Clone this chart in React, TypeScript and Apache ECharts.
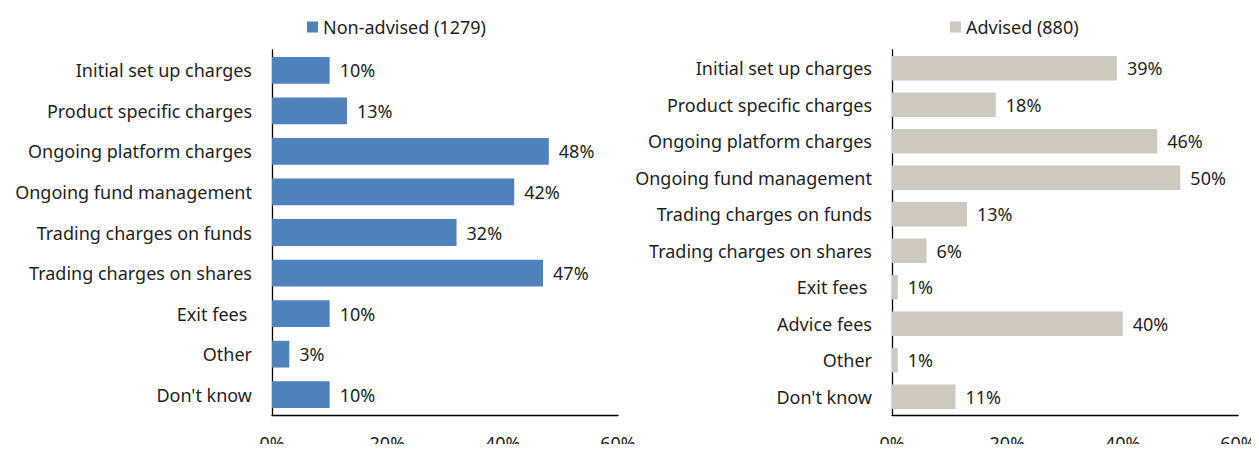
import React, { useEffect, useRef } from "react";
import * as echarts from "echarts";

const leftCategories = [
  "Initial set up charges",
  "Product specific charges",
  "Ongoing platform charges",
  "Ongoing fund management",
  "Trading charges on funds",
  "Trading charges on shares",
  "Exit fees ",
  "Other",
  "Don't know",
];
const leftValues = [10, 13, 48, 42, 32, 47, 10, 3, 10];

const rightCategories = [
  "Initial set up charges",
  "Product specific charges",
  "Ongoing platform charges",
  "Ongoing fund management",
  "Trading charges on funds",
  "Trading charges on shares",
  "Exit fees ",
  "Advice fees",
  "Other",
  "Don't know",
];
const rightValues = [39, 18, 46, 50, 13, 6, 1, 40, 1, 11];

const leftName = "Non-advised (1279)";
const rightName = "Advised (880)";
const xTicks = { min: 0, max: 60, interval: 20 };

const FONT = "Noto Sans";
const FS = 18;
const TEXT = "#1f1f1f";

export default function App() {
  const ref = useRef<HTMLDivElement>(null);
  useEffect(() => {
    if (!ref.current) return;
    const chart = echarts.init(ref.current, null, { renderer: "svg" });
    const mkX = (gi: number) => ({
      type: "value",
      gridIndex: gi,
      min: xTicks.min,
      max: xTicks.max,
      interval: xTicks.interval,
      axisLine: { show: true, lineStyle: { color: "#000", width: 1.3 } },
      axisTick: { show: false },
      splitLine: { show: false },
      axisLabel: {
        formatter: "{value}%",
        color: TEXT,
        fontFamily: FONT,
        fontSize: FS,
        margin: 19,
      },
    });
    const mkY = (gi: number, cats: string[]) => ({
      type: "category",
      gridIndex: gi,
      data: cats,
      inverse: true,
      axisLine: { show: true, lineStyle: { color: "#000", width: 1.3 } },
      axisTick: { show: false },
      axisLabel: {
        color: TEXT,
        fontFamily: FONT,
        fontSize: FS,
        margin: 20,
      },
    });
    const label = {
      show: true,
      position: "right",
      distance: 10,
      formatter: "{c}%",
      color: TEXT,
      fontFamily: FONT,
      fontSize: FS,
    };
    chart.setOption({
      animation: false,
      legend: [
        {
          data: [leftName],
          left: 302,
          top: 13,
          icon: "rect",
          itemWidth: 11,
          itemHeight: 11,
          itemGap: 6,
          textStyle: { color: TEXT, fontFamily: FONT, fontSize: FS },
        },
        {
          data: [rightName],
          left: 945,
          top: 13,
          icon: "rect",
          itemWidth: 11,
          itemHeight: 11,
          itemGap: 6,
          textStyle: { color: TEXT, fontFamily: FONT, fontSize: FS },
        },
      ],
      grid: [
        { left: 272, right: 641, top: 50, bottom: 34 },
        { left: 892, right: 21, top: 50, bottom: 34 },
      ],
      xAxis: [mkX(0), mkX(1)],
      yAxis: [mkY(0, leftCategories), mkY(1, rightCategories)],
      series: [
        {
          name: leftName,
          type: "bar",
          xAxisIndex: 0,
          yAxisIndex: 0,
          data: leftValues,
          barCategoryGap: "34%",
          itemStyle: { color: "#4F81BD" },
          label,
        },
        {
          name: rightName,
          type: "bar",
          xAxisIndex: 1,
          yAxisIndex: 1,
          data: rightValues,
          barCategoryGap: "33%",
          itemStyle: { color: "#CDC9BE" },
          label,
        },
      ],
    });
    return () => chart.dispose();
  }, []);
  return <div ref={ref} style={{ width: 1259, height: 452, margin: -8 }} />;
}
